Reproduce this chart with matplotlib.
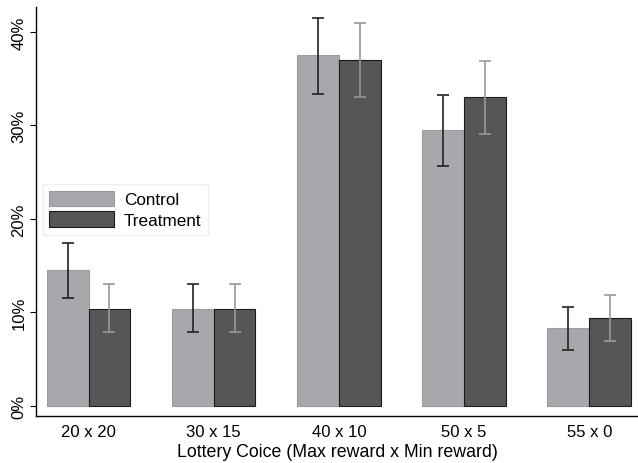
import numpy as np
import matplotlib
matplotlib.use("Agg")
from matplotlib import pyplot as plt
from matplotlib.ticker import FuncFormatter

plt.rcParams['font.family'] = ['Liberation Sans', 'DejaVu Sans']

categories = ['20 x 20', '30 x 15', '40 x 10', '50 x 5', '55 x 0']
control = [14.5, 10.4, 37.5, 29.5, 8.3]
control_lo = [11.5, 7.9, 33.4, 25.7, 6.0]
control_hi = [17.4, 13.0, 41.5, 33.3, 10.6]
treatment = [10.4, 10.4, 37.0, 33.0, 9.4]
treatment_lo = [7.9, 7.9, 33.0, 29.1, 6.9]
treatment_hi = [13.0, 13.0, 41.0, 36.9, 11.8]

x = np.arange(len(categories))
w = 1 / 3

fig = plt.figure(figsize=(6.38, 4.64), dpi=100)
ax = fig.add_axes([0.0564, 0.102, 0.9436, 0.881])

ax.bar(x - w / 2, control, w, color='#a7a8ab', edgecolor='#9a9b9e', linewidth=0.8, label='Control')
ax.bar(x + w / 2, treatment, w, color='#555658', edgecolor='#1a1a1a', linewidth=0.8, label='Treatment')

c_err = [np.array(control) - np.array(control_lo), np.array(control_hi) - np.array(control)]
t_err = [np.array(treatment) - np.array(treatment_lo), np.array(treatment_hi) - np.array(treatment)]
ax.errorbar(x - w / 2, control, yerr=c_err, fmt='none', ecolor='#222222', elinewidth=1.2, capsize=4, capthick=1.2)
ax.errorbar(x + w / 2, treatment, yerr=t_err, fmt='none', ecolor='#999999', elinewidth=1.2, capsize=4, capthick=1.2)

ax.set_xlim(-0.42, 4.39)
ax.set_ylim(-1.07, 42.7)
ax.set_xticks(x)
ax.set_xticklabels(categories, fontsize=12)
ax.tick_params(axis='x', length=0, pad=6)
ax.set_yticks([0, 10, 20, 30, 40])
ax.yaxis.set_major_formatter(FuncFormatter(lambda v, p: '%d%%' % v))
ax.tick_params(axis='y', length=4, labelsize=12, pad=3)
for lab in ax.get_yticklabels():
    lab.set_rotation(90)
    lab.set_va('center')

for s in ['top', 'right']:
    ax.spines[s].set_visible(False)
ax.spines['left'].set_linewidth(1.0)
ax.spines['bottom'].set_linewidth(1.0)

ax.set_xlabel('Lottery Coice (Max reward x Min reward)', fontsize=12.8, labelpad=3)

leg = ax.legend(loc='upper left', bbox_to_anchor=(0.011, 0.567), fontsize=12.3,
                handlelength=3.75, handleheight=1.0, fancybox=False, framealpha=1,
                borderpad=0.4, labelspacing=0.25, handletextpad=0.6, borderaxespad=0)
leg.get_frame().set_edgecolor('#eeeeee')

fig.savefig('out.png', dpi=100)
